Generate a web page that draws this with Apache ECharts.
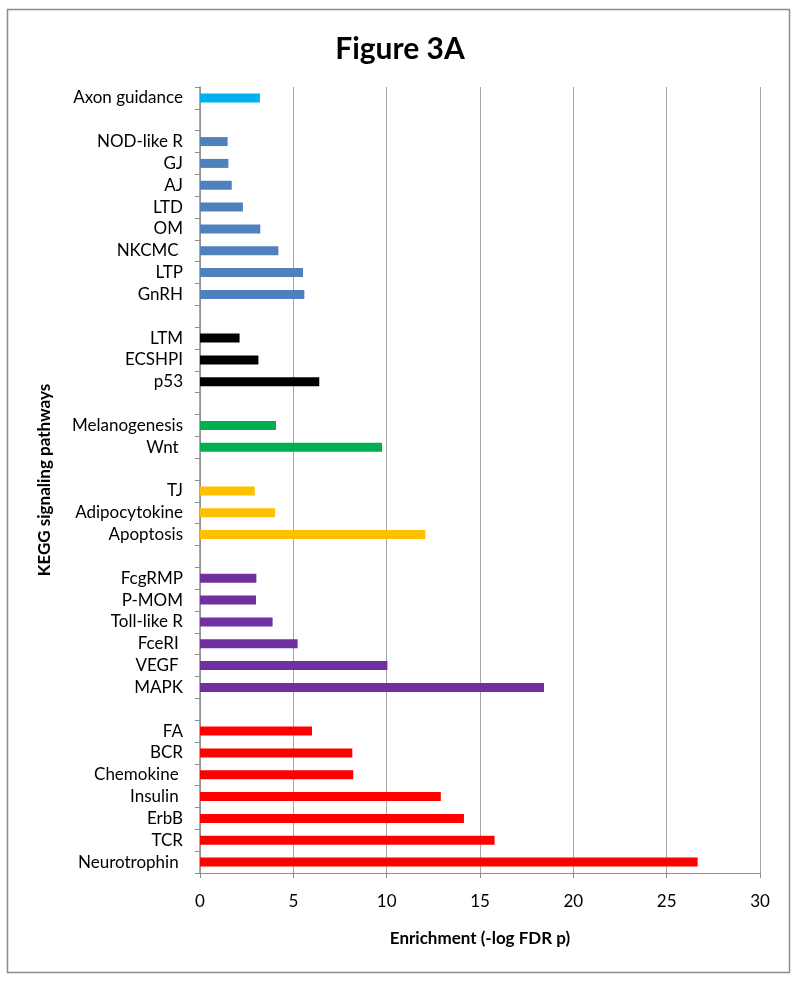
<!DOCTYPE html>
<html>
<head>
<meta charset="utf-8">
<script src="https://cdn.jsdelivr.net/npm/echarts@6/dist/echarts.min.js"></script>
<style>
html,body{margin:0;padding:0;background:#fff;}
#main{width:800px;height:983px;}
</style>
</head>
<body>
<div id="main"></div>
<script>
// Categories listed top to bottom (blank entries are group separators)
var categories = ["Axon guidance", "", "NOD-like R", "GJ", "AJ", "LTD", "OM", "NKCMC ", "LTP", "GnRH", "", "LTM", "ECSHPI", "p53", "", "Melanogenesis", "Wnt ", "", "TJ", "Adipocytokine", "Apoptosis", "", "FcgRMP", "P-MOM", "Toll-like R", "FceRI ", "VEGF ", "MAPK", "", "FA", "BCR", "Chemokine ", "Insulin ", "ErbB", "TCR", "Neurotrophin "];
var values = [3.21, null, 1.48, 1.52, 1.70, 2.30, 3.23, 4.20, 5.52, 5.59, null, 2.12, 3.13, 6.39, null, 4.07, 9.75, null, 2.93, 4.02, 12.07, null, 3.02, 3.00, 3.89, 5.23, 10.04, 18.43, null, 6.00, 8.16, 8.21, 12.90, 14.14, 15.78, 26.66];
var groups = [0, -1, 1, 1, 1, 1, 1, 1, 1, 1, -1, 2, 2, 2, -1, 3, 3, -1, 4, 4, 4, -1, 5, 5, 5, 5, 5, 5, -1, 6, 6, 6, 6, 6, 6, 6];
var groupColors = ["#00B0F0", "#4F81BD", "#000000", "#00B050", "#FFC000", "#7030A0", "#FF0000"];
var xTicks = [0, 5, 10, 15, 20, 25, 30];

var FONT = "Lato, 'Open Sans', sans-serif";
var chart = echarts.init(document.getElementById('main'));
var barData = values.map(function (v, i) {
  if (v === null) return '-';
  return { value: v, itemStyle: { color: groupColors[groups[i]] } };
});

chart.setOption({
  backgroundColor: '#ffffff',
  animation: false,
  title: {
    text: 'Figure 3A',
    left: 'center',
    top: 29,
    textStyle: { fontFamily: FONT, fontSize: 30, fontWeight: 'bold', color: '#000' }
  },
  graphic: [{
    type: 'rect',
    shape: { x: 7.5, y: 9.5, width: 782, height: 963 },
    style: { fill: 'none', stroke: '#8c8c8c', lineWidth: 1.5 },
    silent: true
  }],
  grid: { left: 200, right: 40, top: 87, bottom: 110, containLabel: false },
  xAxis: {
    type: 'value',
    min: xTicks[0],
    max: xTicks[xTicks.length - 1],
    interval: xTicks[1] - xTicks[0],
    name: 'Enrichment (-log FDR p)',
    nameLocation: 'middle',
    nameGap: 57,
    nameTextStyle: { fontFamily: FONT, fontSize: 17, fontWeight: 'bold', color: '#000' },
    axisLine: { show: true, lineStyle: { color: '#8c8c8c', width: 1 } },
    axisTick: { show: true, length: 5, lineStyle: { color: '#8c8c8c' } },
    axisLabel: { fontFamily: FONT, fontSize: 17, color: '#000', margin: 20 },
    splitLine: { show: true, lineStyle: { color: '#a6a6a6', width: 1 } }
  },
  yAxis: {
    type: 'category',
    data: categories,
    inverse: true,
    name: 'KEGG signaling pathways',
    nameLocation: 'middle',
    nameGap: 147,
    nameRotate: 90,
    nameTextStyle: { fontFamily: FONT, fontSize: 17, fontWeight: 'bold', color: '#000' },
    axisLine: { show: true, lineStyle: { color: '#8c8c8c', width: 1.5 } },
    axisTick: { show: true, length: 5, alignWithLabel: false, interval: 0, lineStyle: { color: '#8c8c8c' } },
    axisLabel: { fontFamily: FONT, fontSize: 17, color: '#000', margin: 17, interval: 0 },
    splitLine: { show: false }
  },
  series: [{
    type: 'bar',
    data: barData,
    barWidth: 9
  }]
});
</script>
</body>
</html>
